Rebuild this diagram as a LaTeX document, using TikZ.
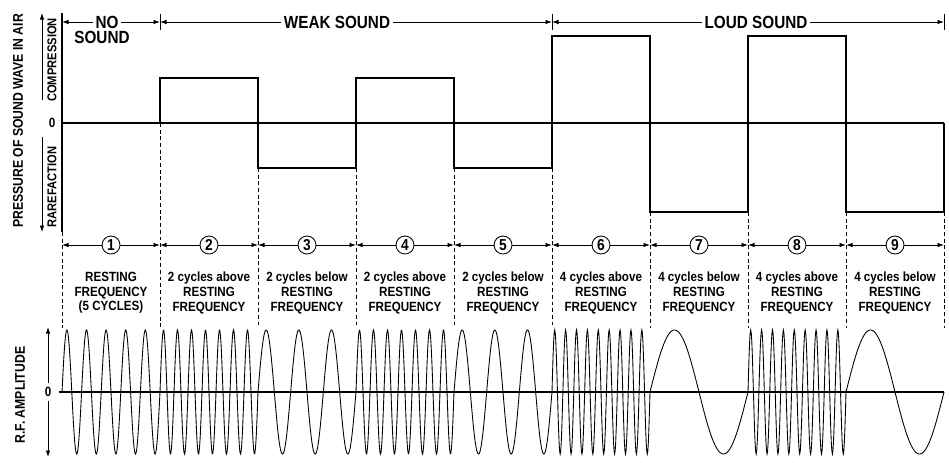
\documentclass[tikz,border=0pt]{standalone}
\usepackage{fontspec}
\setmainfont[FakeStretch=0.87]{Liberation Sans}
\usetikzlibrary{arrows.meta}

\begin{document}
\begin{tikzpicture}[x=0.2mm,y=-0.2mm,font=\bfseries\fontsize{7.6}{8.3}\selectfont,
 sq/.style={line width=0.8pt,line join=miter},
 zl/.style={line width=0.6pt},
 wv/.style={line width=0.5pt},
 dl/.style={dash pattern=on 2.2pt off 1.6pt,line width=0.45pt},
 dim/.style={-{Latex[length=1.3mm,width=0.9mm]},line width=0.45pt},
 tk/.style={line width=0.5pt},
 hd/.style={font=\bfseries\fontsize{10}{11}\selectfont,inner xsep=1.5pt,inner ysep=0.5pt},
 num/.style={circle,draw,line width=0.5pt,minimum size=3.6mm,inner sep=0pt,font=\bfseries\fontsize{9}{10}\selectfont},
 lb/.style={align=center,inner sep=0pt},
 ax/.style={rotate=90,inner sep=0pt}]
\useasboundingbox (0,0) rectangle (949,462);
% sound pressure
\node[ax,font=\bfseries\fontsize{8}{9}\selectfont] (ptitle) at (18,121) {PRESSURE OF SOUND WAVE IN AIR};
\node[ax,font=\bfseries\fontsize{7.3}{8}\selectfont] (comp) at (52,60) {COMPRESSION};
\node[inner sep=1pt] (pzero) at (52,123) {0};
\node[ax,font=\bfseries\fontsize{7.3}{8}\selectfont] (rare) at (52,187) {RAREFACTION};
\coordinate (pup0) at (42,100);
\coordinate (pup1) at (42,13);
\coordinate (pdn0) at (42,137);
\coordinate (pdn1) at (42,232);
\draw[dim] (pup0) -- (pup1);
\draw[dim] (pdn0) -- (pdn1);
\draw[zl] (62,13) -- (62,232);
\draw[zl] (62,123) -- (944,123);
\draw[sq] (62,123) -- (160,123) -- (160,78) -- (258,78) -- (258,168) -- (356,168) -- (356,78)
 -- (454,78) -- (454,168) -- (552,168) -- (552,36) -- (650,36) -- (650,212) -- (748,212)
 -- (748,36) -- (846,36) -- (846,212) -- (944,212) -- (944,123);
\foreach \xb/\yb in {62/232,160/123,258/168,356/168,454/168,552/168,650/212,748/212,846/212,944/212}
 \draw[dl] (\xb,\yb) -- (\xb,328);
% header
\node[hd] (nolbl) at (107,22) {NO};
\node[hd,inner sep=0pt] (sndlbl) at (102,37) {SOUND};
\node[hd] (weak) at (337,22) {WEAK SOUND};
\node[hd] (loud) at (756,22) {LOUD SOUND};
\coordinate (h0) at (62,22);
\coordinate (h1) at (160,22);
\coordinate (h2) at (552,22);
\coordinate (h3) at (944,22);
\foreach \xb in {160,552,944}
 \draw[tk] (\xb,14) -- (\xb,30);
\draw[dim] (nolbl) -- (h0);
\draw[dim] (nolbl) -- (h1);
\draw[dim] (weak) -- (h1);
\draw[dim] (weak) -- (h2);
\draw[dim] (loud) -- (h2);
\draw[dim] (loud) -- (h3);
% intervals
\foreach \i in {0,...,9}
 \coordinate (b\i) at ({62+98*\i},245);
\foreach \i [evaluate=\i as \j using int(\i-1)] in {1,...,9} {
 \node[num] (c\i) at ({13+98*\i},245) {\i};
 \draw[dim] (c\i) -- (b\j);
 \draw[dim] (c\i) -- (b\i);
}
\node[lb] (t1) at (111,293) {RESTING\\FREQUENCY\\(5 CYCLES)};
\foreach \i/\txt in {2/2 cycles above,3/2 cycles below,4/2 cycles above,5/2 cycles below,
 6/4 cycles above,7/4 cycles below,8/4 cycles above,9/4 cycles below}
 \node[lb] (t\i) at ({13+98*\i},293) {\txt\\RESTING\\FREQUENCY};
% r.f. carrier
\node[ax,font=\bfseries\fontsize{8}{9}\selectfont] (rftitle) at (20,395) {R.F. AMPLITUDE};
\node[inner sep=2pt] (rfzero) at (48,392) {0};
\coordinate (rfup) at (48,327);
\coordinate (rfdn) at (48,457);
\draw[dim] (rfzero) -- (rfup);
\draw[dim] (rfzero) -- (rfdn);
\draw[zl] (59,392) -- (944,392);
\foreach \k/\cyc in {0/5,1/7,2/3,3/7,4/3,5/9,6/1,7/9,8/1}
 \draw[wv] plot[domain=0:98,samples=181] ({62+98*\k+\x},{392-62*sin(\x*\cyc*3.67347)});
\end{tikzpicture}
\end{document}
